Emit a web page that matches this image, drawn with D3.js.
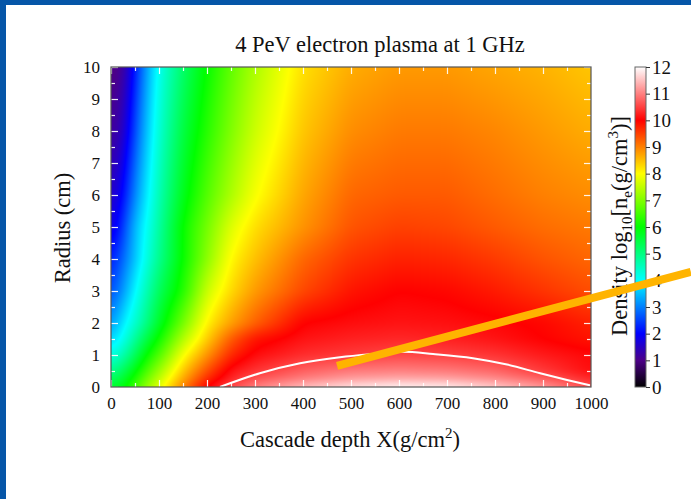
<!DOCTYPE html>
<html>
<head>
<meta charset="utf-8">
<script src="https://cdn.jsdelivr.net/npm/d3@7"></script>
<style>
  body { margin: 0; background: #fff; }
  svg { display: block; font-family: "Liberation Serif", "Times New Roman", serif; }
</style>
</head>
<body>
<div id="chart"></div>
<script>
// grid the density was read on (depth in g/cm2, radius in cm)
const depthGrid = [0, 25, 50, 75, 100, 150, 200, 250, 300, 400, 500, 600, 700, 800, 900, 1000];
const radiusGrid = [0, 0.25, 0.5, 1, 1.5, 2, 3, 4, 5, 6, 8, 10];

// log10 density, one row per radius above
const densityLog = [
  [5.6, 5.85, 6.5, 7.2, 7.8, 9.0, 10.05, 10.6, 11.0, 11.5, 11.8, 11.95, 11.9, 11.6, 11.2, 10.6],
  [5.2, 5.6, 6.2, 6.9, 7.5, 8.7, 9.7, 10.3, 10.65, 11.0, 11.25, 11.35, 11.3, 11.1, 10.75, 10.3],
  [4.8, 5.3, 5.9, 6.6, 7.2, 8.45, 9.4, 10.15, 10.4, 10.75, 10.95, 11.0, 10.95, 10.8, 10.45, 10.1],
  [4.15, 4.6, 5.3, 6.05, 6.6, 7.95, 8.85, 9.7, 10.1, 10.35, 10.45, 10.55, 10.5, 10.4, 10.2, 10.05],
  [3.6, 4.1, 4.8, 5.5, 6.1, 7.4, 8.4, 9.3, 9.85, 10.15, 10.25, 10.3, 10.25, 10.15, 10.0, 9.85],
  [3.1, 3.85, 4.35, 5.0, 5.7, 6.9, 8.1, 8.75, 9.25, 10.0, 10.1, 10.15, 10.12, 10.05, 9.95, 9.75],
  [2.5, 3.2, 3.95, 4.6, 5.3, 6.25, 7.6, 8.3, 8.8, 9.45, 9.85, 10.0, 9.95, 9.8, 9.6, 9.4],
  [2.1, 2.8, 3.55, 4.25, 4.9, 6.05, 7.1, 8.05, 8.5, 9.2, 9.6, 9.75, 9.7, 9.55, 9.35, 9.2],
  [1.6, 2.4, 3.5, 4.05, 4.75, 6.05, 6.9, 7.75, 8.25, 8.85, 9.35, 9.5, 9.45, 9.3, 9.15, 9.05],
  [1.4, 2.0, 3.1, 3.85, 4.6, 5.8, 6.65, 7.35, 7.95, 8.7, 9.2, 9.3, 9.3, 9.15, 9.0, 8.9],
  [1.1, 1.4, 2.6, 3.55, 4.35, 5.5, 6.3, 7.0, 7.6, 8.45, 8.9, 9.05, 9.05, 8.95, 8.8, 8.65],
  [0.9, 1.05, 2.2, 3.3, 4.15, 5.2, 6.05, 6.75, 7.35, 8.25, 8.65, 8.8, 8.8, 8.7, 8.6, 8.45]
];

// white contour (1 GHz plasma frequency)
const contourX = [227, 310, 394, 477, 546, 608, 671, 754, 825, 894, 950, 998];
const contourR = [0, 0.43, 0.74, 0.93, 1.03, 1.10, 1.03, 0.9, 0.7, 0.43, 0.22, 0.05];

// orange pointer line on the slide
const pointerX = [471, 1208];
const pointerR = [0.66, 3.6];

const xTicks = d3.range(0, 1001, 100);
const xMinor = d3.range(50, 1000, 100);
const yTicks = d3.range(0, 11, 1);
const yMinor = d3.range(0.5, 10, 1);
const cbTicks = d3.range(0, 13, 1);
const paletteStops = cbTicks;
const paletteColors = ["#000000", "#4c0088", "#0000ff", "#0080ff", "#00ffff", "#00ff80", "#00ff00",
  "#80ff00", "#ffff00", "#ff8000", "#ff0000", "#ff8080", "#ffffff"];

const width = 691;
const height = 499;

const svg = d3.select("#chart")
  .append("svg")
  .attr("width", width)
  .attr("height", height);

// slide background
svg.append("rect").attr("width", width).attr("height", height).attr("fill", "#0656a8");
svg.append("rect").attr("x", 6).attr("y", 5).attr("width", width - 6).attr("height", height - 5).attr("fill", "#fff");

const x = d3.scaleLinear().domain([0, 1000]).range([111, 591]);
const y = d3.scaleLinear().domain([0, 10]).range([387, 67]);
const color = d3.scaleLinear().domain(paletteStops).range(paletteColors).clamp(true);

// bilinear lookup on the read grid
function density(X, r) {
  let i = Math.max(0, Math.min(d3.bisectRight(depthGrid, X) - 1, depthGrid.length - 2));
  let j = Math.max(0, Math.min(d3.bisectRight(radiusGrid, r) - 1, radiusGrid.length - 2));
  const tx = (X - depthGrid[i]) / (depthGrid[i + 1] - depthGrid[i]);
  const ty = (r - radiusGrid[j]) / (radiusGrid[j + 1] - radiusGrid[j]);
  const a = densityLog[j][i], b = densityLog[j][i + 1];
  const c = densityLog[j + 1][i], d = densityLog[j + 1][i + 1];
  return (a * (1 - tx) + b * tx) * (1 - ty) + (c * (1 - tx) + d * tx) * ty;
}

// box blur with clamped edges, to hide the grid creases
function blur(vals, w, h, rx, ry) {
  const out = new Float32Array(w * h);
  for (let j = 0; j < h; j++) {
    for (let i = 0; i < w; i++) {
      let s = 0;
      for (let k = -rx; k <= rx; k++) s += vals[j * w + Math.min(w - 1, Math.max(0, i + k))];
      out[j * w + i] = s / (2 * rx + 1);
    }
  }
  const out2 = new Float32Array(w * h);
  for (let j = 0; j < h; j++) {
    for (let i = 0; i < w; i++) {
      let s = 0;
      for (let k = -ry; k <= ry; k++) s += out[Math.min(h - 1, Math.max(0, j + k)) * w + i];
      out2[j * w + i] = s / (2 * ry + 1);
    }
  }
  return out2;
}

// paint the heat map
const pw = x.range()[1] - x.range()[0];
const ph = y.range()[0] - y.range()[1];
let field = new Float32Array(pw * ph);
for (let j = 0; j < ph; j++) {
  const r = y.invert(y.range()[1] + j + 0.5);
  for (let i = 0; i < pw; i++) {
    field[j * pw + i] = density(x.invert(x.range()[0] + i + 0.5), r);
  }
}
field = blur(field, pw, ph, 7, 3);
field = blur(field, pw, ph, 7, 3);

const canvas = document.createElement("canvas");
canvas.width = pw;
canvas.height = ph;
const ctx = canvas.getContext("2d");
const img = ctx.createImageData(pw, ph);
for (let n = 0; n < pw * ph; n++) {
  const c = d3.rgb(color(field[n]));
  img.data[n * 4] = c.r;
  img.data[n * 4 + 1] = c.g;
  img.data[n * 4 + 2] = c.b;
  img.data[n * 4 + 3] = 255;
}
ctx.putImageData(img, 0, 0);

svg.append("image")
  .attr("x", x.range()[0])
  .attr("y", y.range()[1])
  .attr("width", pw)
  .attr("height", ph)
  .attr("preserveAspectRatio", "none")
  .attr("href", canvas.toDataURL());

svg.append("defs").append("clipPath").attr("id", "plotclip")
  .append("rect")
  .attr("x", x.range()[0]).attr("y", y.range()[1])
  .attr("width", pw).attr("height", ph);

// white contour
const contour = d3.line()
  .x(d => x(d[0]))
  .y(d => y(d[1]))
  .curve(d3.curveMonotoneX);
svg.append("path")
  .datum(contourX.map((v, i) => [v, contourR[i]]))
  .attr("clip-path", "url(#plotclip)")
  .attr("d", contour)
  .attr("fill", "none")
  .attr("stroke", "#fff")
  .attr("stroke-width", 2);

// ticks, white and pointing inward on all four sides
function styleTicks(g, col) {
  g.select(".domain").remove();
  g.selectAll(".tick line").attr("stroke", col).attr("stroke-width", 1.2);
  g.selectAll("text").attr("fill", "#111").style("font-size", "17px").style("font-family", "Liberation Serif");
}
const tickCol = "rgba(255,255,255,0.9)";
svg.append("g").attr("transform", `translate(0,${y(0)})`)
  .call(d3.axisBottom(x).tickValues(xTicks).tickSize(-7).tickPadding(10).tickFormat(d3.format("d")))
  .call(g => styleTicks(g, tickCol));
svg.append("g").attr("transform", `translate(0,${y(0)})`)
  .call(d3.axisBottom(x).tickValues(xMinor).tickSize(-4).tickFormat(""))
  .call(g => styleTicks(g, tickCol));
svg.append("g").attr("transform", `translate(0,${y(10)})`)
  .call(d3.axisTop(x).tickValues(xTicks).tickSize(-7).tickFormat(""))
  .call(g => styleTicks(g, tickCol));
svg.append("g").attr("transform", `translate(0,${y(10)})`)
  .call(d3.axisTop(x).tickValues(xMinor).tickSize(-4).tickFormat(""))
  .call(g => styleTicks(g, tickCol));
svg.append("g").attr("transform", `translate(${x(0)},0)`)
  .call(d3.axisLeft(y).tickValues(yTicks).tickSize(-7).tickPadding(11))
  .call(g => styleTicks(g, tickCol));
svg.append("g").attr("transform", `translate(${x(0)},0)`)
  .call(d3.axisLeft(y).tickValues(yMinor).tickSize(-4).tickFormat(""))
  .call(g => styleTicks(g, tickCol));
svg.append("g").attr("transform", `translate(${x(1000)},0)`)
  .call(d3.axisRight(y).tickValues(yTicks).tickSize(-7).tickFormat(""))
  .call(g => styleTicks(g, tickCol));
svg.append("g").attr("transform", `translate(${x(1000)},0)`)
  .call(d3.axisRight(y).tickValues(yMinor).tickSize(-4).tickFormat(""))
  .call(g => styleTicks(g, tickCol));

// plot border
svg.append("rect")
  .attr("x", x.range()[0]).attr("y", y.range()[1])
  .attr("width", pw).attr("height", ph)
  .attr("fill", "none").attr("stroke", "#555").attr("stroke-width", 1.2);

// colour box
const cb = d3.scaleLinear().domain([0, 12]).range([387, 67]);
const grad = svg.select("defs").append("linearGradient")
  .attr("id", "cbgrad")
  .attr("x1", 0).attr("y1", 1).attr("x2", 0).attr("y2", 0);
grad.selectAll("stop")
  .data(paletteStops)
  .enter().append("stop")
  .attr("offset", d => d / 12)
  .attr("stop-color", d => color(d));
svg.append("rect")
  .attr("x", 635).attr("y", cb(12))
  .attr("width", 11).attr("height", cb(0) - cb(12))
  .attr("fill", "url(#cbgrad)")
  .attr("stroke", "#666").attr("stroke-width", 1);
svg.append("g").attr("transform", "translate(646,0)")
  .call(d3.axisRight(cb).tickValues(cbTicks).tickSize(4).tickPadding(2))
  .call(g => {
    g.select(".domain").remove();
    g.selectAll(".tick line").attr("stroke", "#333");
    g.selectAll("text").attr("fill", "#111").style("font-size", "19px").style("font-family", "Liberation Serif");
  });

// labels
svg.append("text")
  .attr("x", 380).attr("y", 52)
  .attr("text-anchor", "middle")
  .style("font-size", "22.5px")
  .attr("fill", "#111")
  .text("4 PeV electron plasma at 1 GHz");

const xl = svg.append("text")
  .attr("x", 350).attr("y", 447)
  .attr("text-anchor", "middle")
  .style("font-size", "22.5px")
  .attr("fill", "#111");
xl.append("tspan").text("Cascade depth X(g/cm");
xl.append("tspan").attr("dy", -9).style("font-size", "15px").text("2");
xl.append("tspan").attr("dy", 9).text(")");

svg.append("text")
  .attr("transform", "translate(70,228) rotate(-90)")
  .attr("text-anchor", "middle")
  .style("font-size", "22.5px")
  .attr("fill", "#111")
  .text("Radius (cm)");

const cl = svg.append("text")
  .attr("transform", "translate(627,226) rotate(-90)")
  .attr("text-anchor", "middle")
  .style("font-size", "22.5px")
  .attr("fill", "#111");
cl.append("tspan").text("Density log");
cl.append("tspan").attr("dy", 5).style("font-size", "15px").text("10");
cl.append("tspan").attr("dy", -5).text("[n");
cl.append("tspan").attr("dy", 5).style("font-size", "15px").text("e");
cl.append("tspan").attr("dy", -5).text("(g/cm");
cl.append("tspan").attr("dy", -9).style("font-size", "15px").text("3");
cl.append("tspan").attr("dy", 9).text(")]");

// orange pointer drawn over the slide
svg.append("line")
  .attr("x1", x(pointerX[0])).attr("y1", y(pointerR[0]))
  .attr("x2", x(pointerX[1])).attr("y2", y(pointerR[1]))
  .attr("stroke", "#ffb400")
  .attr("stroke-width", 8);
</script>
</body>
</html>
